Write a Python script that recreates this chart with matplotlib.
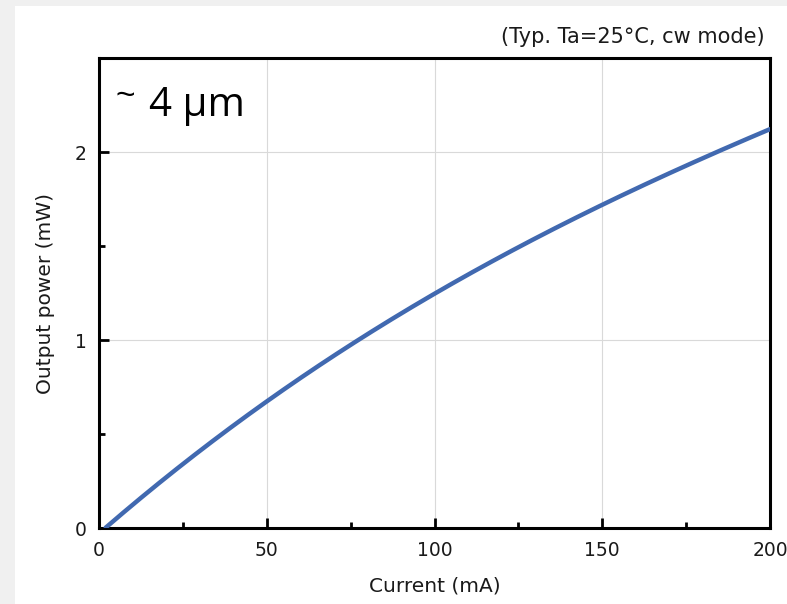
import numpy as np
import matplotlib.pyplot as plt
from matplotlib.ticker import MultipleLocator
import matplotlib.patches as mpatches

# values
current_ma = [2, 10, 25, 50, 75, 100, 125, 150, 175, 200]
power_mw = [0.0, 0.12, 0.35, 0.67, 0.97, 1.25, 1.49, 1.72, 1.93, 2.12]

plt.rcParams['font.family'] = ['DejaVu Sans']

fig = plt.figure(figsize=(7.87, 6.04), dpi=100, facecolor='#f0f0f0')
# white panel inside a thin grey frame
fig.patches.append(mpatches.Rectangle((15 / 787, 0), 1, 1 - 6 / 604,
                                      transform=fig.transFigure,
                                      facecolor='white', edgecolor='none', zorder=0))

ax = fig.add_axes([99 / 787, 76 / 604, 671 / 787, 470 / 604])
ax.set_zorder(2)
ax.set_facecolor('white')

# smooth through the read points
x = np.linspace(current_ma[0], current_ma[-1], 300)
coef = np.polyfit(current_ma, power_mw, 3)
ax.plot(x, np.polyval(coef, x), color='#4169b0', lw=3.2, solid_capstyle='round', zorder=3)

ax.set_xlim(0, 200)
ax.set_ylim(0, 2.5)
ax.xaxis.set_major_locator(MultipleLocator(50))
ax.xaxis.set_minor_locator(MultipleLocator(25))
ax.yaxis.set_major_locator(MultipleLocator(1))
ax.yaxis.set_minor_locator(MultipleLocator(0.5))
ax.tick_params(which='both', direction='in', color='black', labelsize=13.5, labelcolor='#1a1a1a')
ax.tick_params(which='major', length=7, width=2)
ax.tick_params(which='minor', length=4, width=2)
ax.tick_params(axis='x', pad=9)
ax.tick_params(axis='y', pad=9)
ax.grid(which='major', color='#d9d9d9', lw=0.8)
ax.set_axisbelow(True)
for s in ax.spines.values():
    s.set_linewidth(2.2)

ax.set_xlabel('Current (mA)', fontsize=14.5, color='#1a1a1a', labelpad=12)
ax.set_ylabel('Output power (mW)', fontsize=14.5, color='#1a1a1a', labelpad=14)

ax.text(0.024, 0.899, '~', transform=ax.transAxes, fontsize=24,
        ha='left', va='baseline', family='Liberation Sans')
ax.text(0.075, 0.942, '4 µm', transform=ax.transAxes, fontsize=29,
        ha='left', va='top', family='Open Sans')
fig.text(765 / 787, 1 - 37 / 604, '(Typ. Ta=25°C, cw mode)', fontsize=15,
         ha='right', va='center', color='#1a1a1a', zorder=3)

fig.savefig('out.png', dpi=100, facecolor=fig.get_facecolor())
